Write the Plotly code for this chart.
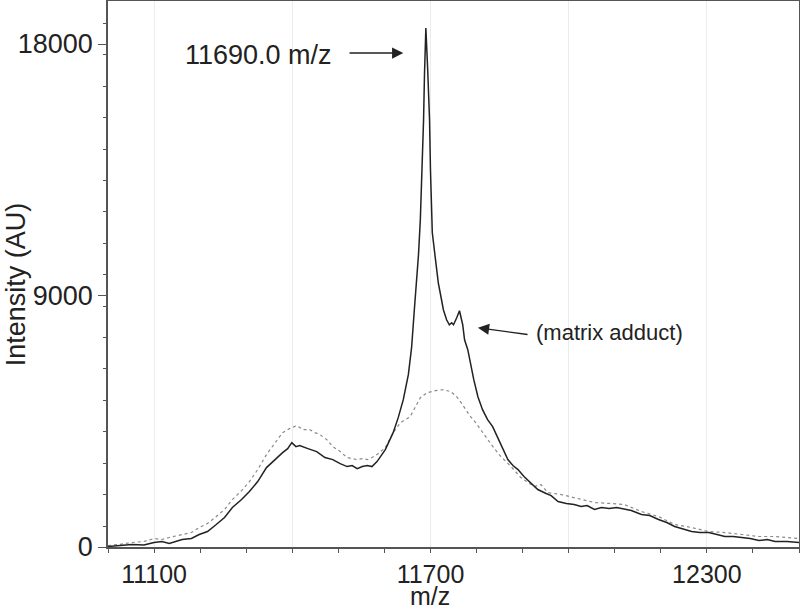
import plotly.graph_objects as go

# ---- data ----
solid_mz = [11000, 11024, 11052, 11078, 11100, 11117, 11133, 11161, 11181, 11198, 11216, 11235, 11253, 11270,
            11290, 11307, 11325, 11344, 11362, 11379, 11390, 11399, 11408, 11416, 11434, 11453, 11471, 11488,
            11504, 11519, 11530, 11541, 11552, 11563, 11573, 11584, 11602, 11619, 11630, 11641, 11652, 11659,
            11665, 11669, 11674, 11678, 11682, 11685, 11687, 11690, 11694, 11698, 11700, 11702, 11704, 11711,
            11717, 11724, 11728, 11735, 11741, 11746, 11750, 11757, 11763, 11770, 11774, 11781, 11787, 11794,
            11803, 11813, 11824, 11835, 11848, 11859, 11868, 11879, 11890, 11903, 11918, 11933, 11951, 11962,
            11977, 11995, 12012, 12027, 12040, 12056, 12071, 12088, 12104, 12121, 12136, 12158, 12176, 12195,
            12213, 12230, 12250, 12267, 12285, 12304, 12322, 12339, 12357, 12376, 12394, 12413, 12431, 12448,
            12474, 12500]
solid_int = [18, 54, 89, 72, 161, 197, 125, 268, 304, 447, 554, 804, 1055, 1412,
             1698, 1984, 2342, 2842, 3128, 3378, 3521, 3736, 3593, 3629, 3521, 3414, 3200, 3128,
             2985, 2878, 2914, 2806, 2878, 2914, 2878, 3057, 3486, 4093, 4630, 5273, 6167, 7132,
             8491, 9313, 10457, 11708, 13496, 15283, 16892, 18572, 17070, 15283, 13496, 11708, 11244, 10278,
             9456, 8848, 8491, 8133, 7954, 8026, 7954, 8205, 8455, 7954, 7418, 7061, 6524, 5988,
             5380, 4916, 4558, 4308, 3843, 3414, 3128, 2914, 2771, 2520, 2270, 2056, 1913, 1841,
             1627, 1555, 1519, 1448, 1483, 1341, 1412, 1376, 1412, 1341, 1305, 1162, 1126, 983,
             876, 733, 626, 554, 518, 518, 447, 375, 375, 340, 304, 232, 268, 197,
             197, 161]

dotted_mz = [11000, 11024, 11052, 11078, 11100, 11117, 11133, 11161, 11181, 11198, 11216, 11235, 11253, 11270,
             11290, 11307, 11325, 11344, 11362, 11379, 11394, 11410, 11423, 11438, 11449, 11460, 11475, 11488,
             11504, 11519, 11530, 11541, 11552, 11563, 11573, 11584, 11602, 11619, 11635, 11656, 11678, 11693,
             11711, 11728, 11744, 11755, 11765, 11776, 11787, 11798, 11809, 11824, 11837, 11853, 11864, 11875,
             11896, 11925, 11940, 11955, 11984, 12012, 12056, 12093, 12121, 12158, 12195, 12230, 12267, 12304,
             12339, 12376, 12413, 12448, 12500]
dotted_int = [54, 89, 161, 197, 304, 268, 340, 447, 518, 697, 840, 1090, 1341, 1698,
              2020, 2342, 2771, 3307, 3700, 4093, 4237, 4344, 4201, 4201, 4093, 4022, 3843, 3593,
              3414, 3200, 3164, 3128, 3164, 3128, 3200, 3307, 3557, 4093, 4451, 4665, 5345, 5523,
              5595, 5631, 5559, 5416, 5202, 4916, 4665, 4451, 4201, 3843, 3557, 3236, 3057, 2878,
              2485, 2163, 2234, 1948, 1877, 1770, 1591, 1555, 1519, 1269, 1090, 804, 697, 554,
              518, 447, 375, 375, 304]

x_tick_vals = [11100, 11400, 11700, 12000, 12300]
x_tick_text = ["11100", "", "11700", "", "12300"]
y_tick_vals = [0, 9000, 18000]
y_tick_text = ["0", "9000", "18000"]

x_range = [11000, 12500]
y_range = [0, 19540]

FONT = "Liberation Sans, Arial, sans-serif"
TXT = "#222222"
AX = "#555555"
GRID = "#ececec"

fig = go.Figure()
fig.add_trace(go.Scatter(x=dotted_mz, y=dotted_int, mode="lines",
                         line=dict(color="#8a8a8a", width=1.2, dash="dot"), showlegend=False))
fig.add_trace(go.Scatter(x=solid_mz, y=solid_int, mode="lines",
                         line=dict(color="#222222", width=1.5), showlegend=False))

fig.update_layout(
    width=800, height=611,
    margin=dict(l=108, r=1, t=1, b=64, autoexpand=False),
    paper_bgcolor="white", plot_bgcolor="white",
    font=dict(family=FONT, color=TXT),
    xaxis=dict(range=x_range, tickmode="array", tickvals=x_tick_vals, ticktext=x_tick_text,
               showgrid=True, gridcolor=GRID, gridwidth=1, zeroline=False,
               showline=True, linecolor=AX, linewidth=1.5, mirror=True,
               ticks="outside", ticklen=4, tickcolor=AX, tickwidth=1,
               tickfont=dict(size=25, color=TXT, family=FONT),
               automargin=False,
               minor=dict(tickmode="linear", tick0=11000, dtick=100, ticks="outside",
                          ticklen=4, tickcolor=AX, showgrid=False)),
    yaxis=dict(range=y_range, tickmode="array", tickvals=y_tick_vals, ticktext=y_tick_text,
               showgrid=False, zeroline=False,
               showline=True, linecolor=AX, linewidth=1.5, mirror=True,
               ticks="outside", ticklen=8, tickcolor=AX, tickwidth=1,
               tickfont=dict(size=27, color=TXT, family=FONT),
               automargin=False,
               minor=dict(tickmode="linear", tick0=751, dtick=1124, ticks="outside",
                          ticklen=3, tickcolor=AX, showgrid=False)),
    yaxis2=dict(range=y_range, overlaying="y", anchor="x", side="left",
                tickmode="linear", tick0=751, dtick=3371,
                showgrid=True, gridcolor=GRID, gridwidth=1, automargin=False,
                showticklabels=False, ticks="", showline=False, zeroline=False),
)

# axis titles as annotations (positions)
fig.add_annotation(text="Intensity (AU)", xref="paper", yref="paper", x=-0.134, y=0.482,
                   textangle=-90, showarrow=False, xanchor="center", yanchor="middle",
                   font=dict(size=27, color=TXT, family=FONT))
fig.add_annotation(text="m/z", xref="x", yref="paper", x=11700, y=-0.089,
                   showarrow=False, xanchor="center", yanchor="middle",
                   font=dict(size=25, color=TXT, family=FONT))

# peak label + arrow
fig.add_annotation(text="11690.0 m/z", xref="x", yref="y", x=11327, y=17607,
                   showarrow=False, xanchor="center", yanchor="middle",
                   font=dict(size=27, color=TXT, family=FONT))
fig.add_annotation(text="", xref="x", yref="y", x=11641, y=17678,
                   axref="x", ayref="y", ax=11521, ay=17678,
                   showarrow=True, arrowhead=2, arrowsize=1.6, arrowwidth=1.4, arrowcolor="#222222")

# matrix adduct label + arrow
fig.add_annotation(text="(matrix adduct)", xref="x", yref="y", x=12088, y=7668,
                   showarrow=False, xanchor="center", yanchor="middle",
                   font=dict(size=22, color=TXT, family=FONT))
fig.add_annotation(text="", xref="x", yref="y", x=11803, y=7847,
                   axref="x", ayref="y", ax=11914, ay=7597,
                   showarrow=True, arrowhead=2, arrowsize=1.6, arrowwidth=1.4, arrowcolor="#222222")

fig.write_html("out.html", config={"displayModeBar": False},
               post_script="document.body.style.margin='0px';")
